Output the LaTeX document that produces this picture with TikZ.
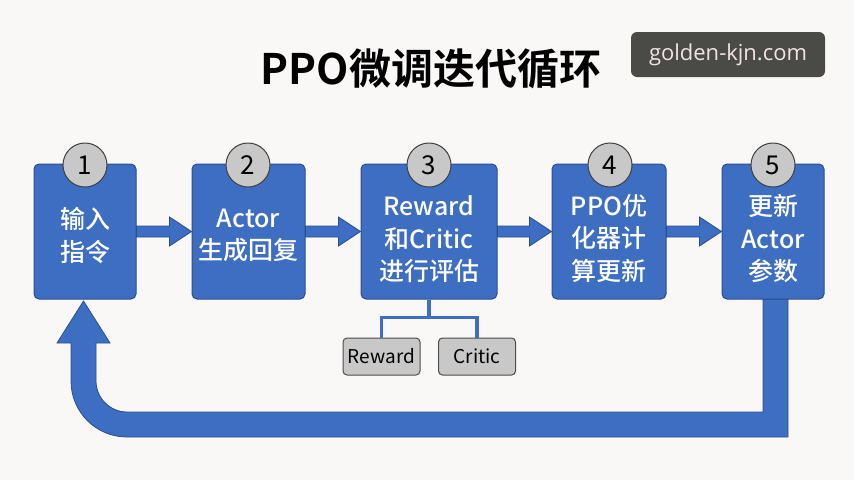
\documentclass[tikz,border=0pt]{standalone}
\usepackage{fontspec}
\setmainfont{Noto Sans CJK SC}[BoldFont={Noto Sans CJK SC Bold}]
\newfontfamily\medfont{Noto Sans CJK SC Medium}
\newfontfamily\wmfont{Open Sans}
\usetikzlibrary{calc}
\definecolor{bg}{HTML}{FAF8F7}
\definecolor{bblue}{HTML}{3D6EC2}
\definecolor{bdark}{HTML}{2A4E8E}
\definecolor{cgray}{HTML}{C8C8C8}
\definecolor{wmgray}{HTML}{4A4B46}
\definecolor{wmtext}{HTML}{F2E4E4}
\tikzset{
  stepbox/.style={draw=bdark, line width=1pt, fill=bblue, rounded corners=5pt,
    minimum width=#1, minimum height=135pt, inner sep=0pt},
  steptext/.style={text=white, align=center, inner sep=0pt,
    font=\medfont\fontsize{25}{32.5}\selectfont},
  numcirc/.style={draw=black!75, line width=1pt, fill=cgray, circle,
    minimum size=44pt, inner sep=0pt, font=\fontsize{26}{26}\selectfont},
  subbox/.style={draw=black!70, line width=1pt, fill=cgray, rounded corners=4pt,
    minimum width=77pt, minimum height=37pt, inner sep=0pt,
    font=\fontsize{19}{19}\selectfont},
  conn/.style={draw=bblue, line width=3.5pt},
  fatfill/.style={draw=bdark, line width=0.8pt, fill=bblue}
}
\newcommand{\fatarrow}[2]{%
  \path let \p1=(#1.east), \p2=(#2.west) in
    [fatfill] (\x1,\y1+5.5pt) -- (\x2-22pt,\y1+5.5pt) -- (\x2-22pt,\y1+14.5pt)
    -- (\x2,\y1) -- (\x2-22pt,\y1-14.5pt) -- (\x2-22pt,\y1-5.5pt)
    -- (\x1,\y1-5.5pt) -- cycle;}
\begin{document}
\begin{tikzpicture}[x=1pt,y=-1pt]
\fill[bg] (0,0) rectangle (854,480);
\useasboundingbox (0,0) rectangle (854,480);
% title
\node[font=\bfseries\fontsize{42}{42}\selectfont] (title) at (431,69) {PPO微调迭代循环};
\node[fill=wmgray, rounded corners=6pt, minimum width=194pt, minimum height=45pt,
  inner sep=0pt, text=wmtext, font=\wmfont\fontsize{22}{22}\selectfont] (wm) at (728,54.5) {golden-kjn.com};
% feedback arrow
\path[fatfill] (763,299) -- (763,412) -- (127,412) .. controls (110,412) and (96,398) .. (96,381)
  -- (96,343) -- (110,343) -- (83.5,301) -- (57,343) -- (71,343) -- (71,381)
  .. controls (71,412) and (96,437) .. (127,437) -- (788,437) -- (788,299) -- cycle;
% boxes
\node[stepbox=102pt] (b1) at (85,231.5) {};
\node[stepbox=113pt] (b2) at (248.5,231.5) {};
\node[stepbox=136pt] (b3) at (429,231.5) {};
\node[stepbox=114pt] (b4) at (609,231.5) {};
\node[stepbox=102pt] (b5) at (773,231.5) {};
\node[steptext] (t1) at ($(b1.center)+(0,4)$) {输入\\指令};
\node[steptext] (t2) at ($(b2.center)+(0,4)$) {Actor\\生成回复};
\node[steptext] (t3) at ($(b3.center)+(0,8)$) {Reward\\和Critic\\进行评估};
\node[steptext] (t4) at ($(b4.center)+(0,7)$) {PPO优\\化器计\\算更新};
\node[steptext] (t5) at ($(b5.center)+(0,7)$) {更新\\Actor\\参数};
% numbers
\node[numcirc] (n1) at (85,165) {1};
\node[numcirc] (n2) at (248,165) {2};
\node[numcirc] (n3) at (429,165) {3};
\node[numcirc] (n4) at (610,165) {4};
\node[numcirc] (n5) at (773,165) {5};
% arrows
\fatarrow{b1}{b2}
\fatarrow{b2}{b3}
\fatarrow{b3}{b4}
\fatarrow{b4}{b5}
% sub boxes
\node[subbox] (rw) at (381.5,356.5) {Reward};
\node[subbox] (cr) at (477,356.5) {Critic};
\draw[conn] (b3.south) -- ++(0,18) -| (rw.north);
\draw[conn] (b3.south) -- ++(0,18) -| (cr.north);
\end{tikzpicture}
\end{document}
